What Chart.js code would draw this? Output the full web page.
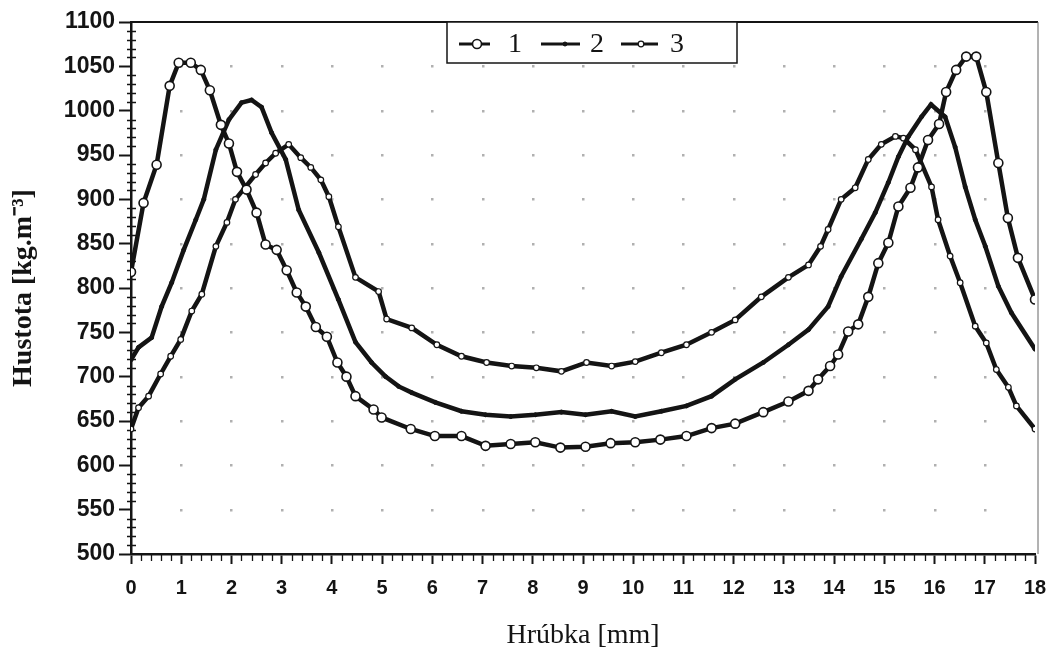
<!DOCTYPE html>
<html><head><meta charset="utf-8">
<script src="https://cdn.jsdelivr.net/npm/chart.js@4.4.0/dist/chart.umd.min.js"></script>
<style>html,body{margin:0;padding:0;background:#fff;}#wrap{width:1047px;height:650px;}</style>
</head><body><div id="wrap"><canvas id="c" width="1047" height="650"></canvas></div>
<script>
// ---- data ----
const seriesLabels = ['1', '2', '3'];
const xTitle = 'Hrúbka [mm]';
const yTitle = 'Hustota [kg.m⁻³]';

const s1x = [0,0.25,0.51,0.77,0.95,1.19,1.39,1.57,1.79,1.95,2.11,2.30,2.50,2.68,2.90,3.10,3.30,3.48,3.68,3.90,4.11,4.29,4.47,4.83,4.99,5.57,6.05,6.58,7.06,7.56,8.05,8.55,9.05,9.55,10.04,10.54,11.06,11.56,12.03,12.59,13.09,13.49,13.68,13.92,14.08,14.28,14.48,14.68,14.88,15.08,15.28,15.52,15.67,15.87,16.09,16.23,16.43,16.63,16.83,17.03,17.27,17.46,17.66,18];
const s1y = [818,896,939,1028,1054,1054,1046,1023,984,963,931,911,885,849,843,820,795,779,756,745,716,700,678,663,654,641,633,633,622,624,626,620,621,625,626,629,633,642,647,660,672,684,697,712,725,751,759,790,828,851,892,913,936,967,985,1021,1046,1061,1061,1021,941,879,834,787];

const s2x = [0,0.15,0.41,0.61,0.81,1.05,1.29,1.45,1.69,1.95,2.20,2.40,2.60,2.80,3.08,3.34,3.74,4.13,4.47,4.79,5.07,5.33,5.59,6.06,6.58,7.06,7.56,8.05,8.57,9.05,9.57,10.04,10.56,11.06,11.56,12.03,12.59,13.09,13.49,13.88,14.14,14.54,14.82,15.08,15.28,15.48,15.74,15.93,16.21,16.41,16.61,16.81,17.01,17.27,17.53,18];
const s2y = [719,733,744,779,806,843,877,900,956,990,1009,1012,1004,975,945,888,840,787,739,716,700,689,682,671,661,657,655,657,660,657,661,655,661,667,678,697,716,736,753,779,813,855,885,919,948,971,993,1007,993,959,914,877,847,802,772,731];

const s3x = [0,0.15,0.35,0.59,0.79,0.99,1.21,1.41,1.69,1.91,2.08,2.28,2.48,2.68,2.88,3.14,3.38,3.58,3.78,3.94,4.13,4.47,4.93,5.09,5.59,6.09,6.58,7.08,7.58,8.07,8.57,9.07,9.57,10.04,10.56,11.06,11.56,12.03,12.55,13.09,13.49,13.73,13.88,14.14,14.42,14.68,14.94,15.22,15.38,15.62,15.94,16.07,16.31,16.51,16.81,17.03,17.23,17.47,17.63,18];
const s3y = [641,665,678,703,723,742,774,793,847,874,900,914,928,941,952,962,947,936,922,903,869,812,796,765,755,736,723,716,712,710,706,716,712,717,727,736,750,764,790,812,826,847,866,900,913,945,962,971,969,956,914,877,836,806,757,738,708,688,667,641];

const xMin = 0, xMax = 18, xStep = 1, xMinorStep = 0.2;
const yMin = 500, yMax = 1100, yStep = 50, yMinorStep = 10;

// ---- build datasets ----
const pts = (xs, ys) => xs.map((x, i) => ({x: x, y: ys[i]}));

const INK = '#141414';

const datasets = [
  {label: seriesLabels[0], data: pts(s1x, s1y), borderColor: INK, borderWidth: 4.5,
   pointRadius: 4.5, pointBackgroundColor: '#fff', pointBorderColor: INK, pointBorderWidth: 1.6, pointStyle: 'circle'},
  {label: seriesLabels[1], data: pts(s2x, s2y), borderColor: INK, borderWidth: 4.5,
   pointRadius: 2, pointBackgroundColor: INK, pointBorderColor: INK, pointBorderWidth: 1, pointStyle: 'circle'},
  {label: seriesLabels[2], data: pts(s3x, s3y), borderColor: INK, borderWidth: 4.5,
   pointRadius: 2.8, pointBackgroundColor: '#fff', pointBorderColor: INK, pointBorderWidth: 1.2, pointStyle: 'circle'}
];

const isMult = (v, s) => Math.abs(v / s - Math.round(v / s)) < 1e-6;

const decorPlugin = {
  id: 'decor',
  beforeDatasetsDraw(chart) {
    const {ctx, chartArea: a, scales: {x, y}} = chart;
    ctx.save();
    // grid intersection dots
    ctx.fillStyle = '#b0b0b0';
    for (let gx = xMin + xStep; gx < xMax - 1e-9; gx += xStep) {
      for (let gy = yMin + yStep; gy < yMax - 1e-9; gy += yStep) {
        const px = x.getPixelForValue(gx), py = y.getPixelForValue(gy);
        ctx.fillRect(Math.round(px) - 1, Math.round(py) - 1, 2.5, 2.5);
      }
    }
    // frame: top and right
    ctx.strokeStyle = INK; ctx.lineWidth = 2;
    ctx.beginPath(); ctx.moveTo(a.left, a.top); ctx.lineTo(a.right + 3, a.top); ctx.stroke();
    ctx.strokeStyle = '#666'; ctx.lineWidth = 1;
    ctx.beginPath(); ctx.moveTo(a.right + 3, a.top); ctx.lineTo(a.right + 3, a.bottom); ctx.stroke();
    // minor ticks
    ctx.strokeStyle = INK; ctx.lineWidth = 1.3;
    ctx.beginPath();
    const nX = Math.round((xMax - xMin) / xMinorStep);
    for (let i = 0; i <= nX; i++) {
      const v = xMin + i * xMinorStep;
      if (isMult(v, xStep)) continue;
      const px = Math.round(x.getPixelForValue(v)) + 0.5;
      ctx.moveTo(px, a.bottom); ctx.lineTo(px, a.bottom + 7);
    }
    const nY = Math.round((yMax - yMin) / yMinorStep);
    for (let i = 0; i <= nY; i++) {
      const v = yMin + i * yMinorStep;
      if (isMult(v, yStep)) continue;
      const py = Math.round(y.getPixelForValue(v)) + 0.5;
      ctx.moveTo(a.left - 4, py); ctx.lineTo(a.left + 5, py);
    }
    ctx.stroke();
    ctx.restore();
  },
  afterDraw(chart) {
    // legend box hanging from the top frame
    const {ctx} = chart;
    const box = {l: 447, t: 22, w: 290, h: 41};
    ctx.save();
    ctx.fillStyle = '#fff';
    ctx.fillRect(box.l, box.t, box.w, box.h);
    ctx.strokeStyle = INK; ctx.lineWidth = 1.5;
    ctx.strokeRect(box.l, box.t, box.w, box.h);
    const cy = box.t + 22;
    const items = [
      {x0: 459, x1: 490, mx: 477, tx: 515},
      {x0: 541, x1: 580, mx: 565, tx: 597},
      {x0: 621, x1: 658, mx: 641, tx: 677}
    ];
    chart.data.datasets.forEach((ds, i) => {
      const it = items[i];
      ctx.strokeStyle = ds.borderColor; ctx.lineWidth = 3;
      ctx.beginPath(); ctx.moveTo(it.x0, cy); ctx.lineTo(it.x1, cy); ctx.stroke();
      ctx.beginPath(); ctx.arc(it.mx, cy, ds.pointRadius, 0, Math.PI * 2);
      ctx.fillStyle = ds.pointBackgroundColor; ctx.fill();
      ctx.lineWidth = ds.pointBorderWidth; ctx.strokeStyle = ds.pointBorderColor; ctx.stroke();
      ctx.fillStyle = INK;
      ctx.font = '28px "Liberation Serif", serif';
      ctx.textAlign = 'center'; ctx.textBaseline = 'middle';
      ctx.fillText(ds.label, it.tx, cy + 1);
    });
    ctx.restore();
  }
};

new Chart(document.getElementById('c'), {
  type: 'line',
  data: {datasets: datasets},
  plugins: [decorPlugin],
  options: {
    responsive: false,
    animation: false,
    devicePixelRatio: 1,
    layout: {padding: {top: 22, right: 12, left: 0, bottom: 0}},
    elements: {line: {tension: 0}},
    plugins: {legend: {display: false}, tooltip: {enabled: false}},
    scales: {
      x: {
        type: 'linear', min: xMin, max: xMax,
        ticks: {stepSize: xStep, autoSkip: false, maxRotation: 0, color: INK, padding: 12,
                callback: (v) => String(v),
                font: {family: '"Liberation Sans", Arial, sans-serif', weight: 'bold', size: 20}},
        grid: {drawOnChartArea: false, drawTicks: true, tickLength: 10, tickWidth: 2, tickColor: INK},
        border: {display: true, color: INK, width: 2.5},
        title: {display: true, text: xTitle, color: INK, padding: {top: 0, bottom: 0},
                font: {family: '"Liberation Serif", serif', size: 28, lineHeight: 1}},
        afterFit(s) { s.height = 96; s.paddingLeft = 0; s.paddingRight = 0; }
      },
      y: {
        type: 'linear', min: yMin, max: yMax,
        ticks: {stepSize: yStep, color: INK, padding: 4,
                callback: (v) => String(v),
                font: {family: '"Liberation Sans", Arial, sans-serif', weight: 'bold', size: 23}},
        grid: {drawOnChartArea: false, drawTicks: true, tickLength: 12, tickWidth: 2, tickColor: INK},
        border: {display: true, color: INK, width: 2.5},
        title: {display: true, text: yTitle, color: INK, padding: {top: 7, bottom: 0},
                font: {family: '"Liberation Serif", serif', weight: 'bold', size: 28, lineHeight: 1.2}},
        afterFit(s) { s.width = 131; s.paddingTop = 0; s.paddingBottom = 0; }
      }
    }
  }
});
</script>
</body></html>
